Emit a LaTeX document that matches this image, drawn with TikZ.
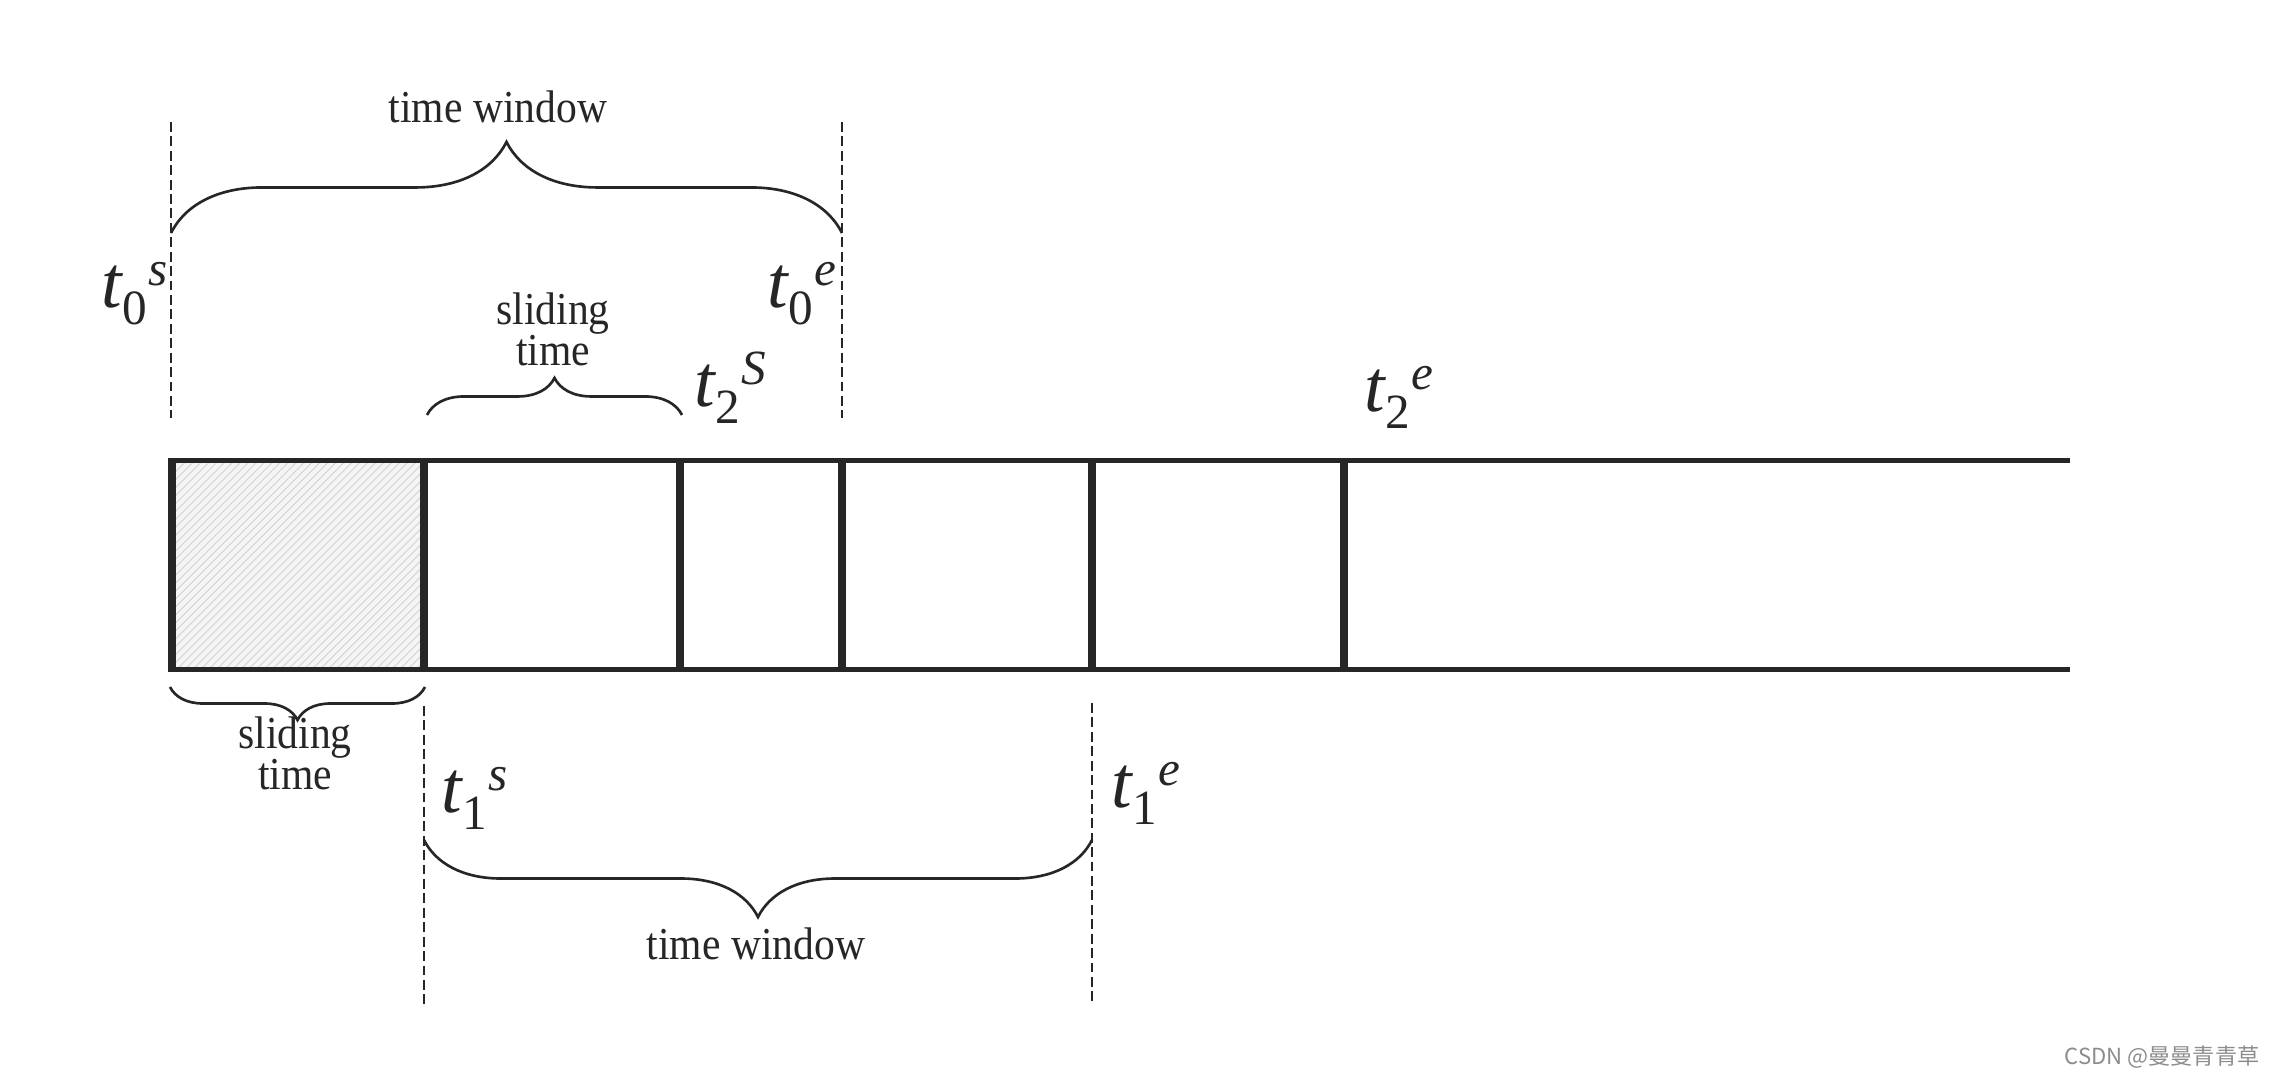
\documentclass[tikz,border=0pt]{standalone}
\usepackage{fontspec}
\setmainfont{Liberation Serif}
\newfontfamily\narrowserif{Liberation Serif}[FakeStretch=0.91]
\newfontfamily\cjkfont{Noto Sans CJK SC}
\usetikzlibrary{decorations.pathreplacing,patterns.meta}

\newcommand{\tmark}[2]{{\fontsize{21}{21}\selectfont\itshape t}\raisebox{-4.8pt}{\fontsize{14}{14}\selectfont #1}\kern0.6pt\raisebox{6.5pt}{\fontsize{14}{14}\selectfont\itshape #2}}

\begin{document}
\begin{tikzpicture}[x=0.01cm,y=-0.01cm,
  ink/.style={draw=black!85},
  rim/.style={ink,line width=1.2pt},
  wall/.style={ink,line width=2.5pt},
  guide/.style={ink,line width=0.75pt,dash pattern=on 2.8pt off 1.3pt},
  curly/.style={ink,line width=0.75pt,decorate,decoration={brace,amplitude=#1}},
  lbl/.style={inner sep=0pt,font=\narrowserif\fontsize{13}{11.7}\selectfont,align=center,text=black!85},
  stamp/.style={inner sep=0pt,anchor=base west,text=black!85}]
\useasboundingbox (0,0) rectangle (2276,1077);
% first (shaded) slot
\fill[gray!8] (171,460) rectangle (424,669);
\fill[pattern={Lines[angle=45,distance=1.6pt,line width=0.35pt]},pattern color=gray!30] (171,460) rectangle (424,669);
\draw[rim] (171,460.5) coordinate (top a) -- (2070,460.5) coordinate (top z);
\draw[rim] (171,669.5) coordinate (bot a) -- (2070,669.5) coordinate (bot z);
\foreach \x/\n in {172/a,424/b,680/c,842/d,1092/e,1344/f} {
   \draw[wall] (\x,458) coordinate (\n up) -- (\x,672) coordinate (\n dn);
}
% window guides
\coordinate (g0s) at (171,122); \coordinate (g0s end) at (171,418);
\coordinate (g0e) at (842,122); \coordinate (g0e end) at (842,418);
\coordinate (g1s) at (424,706); \coordinate (g1s end) at (424,1008);
\coordinate (g1e) at (1092,703); \coordinate (g1e end) at (1092,1002);
\draw[guide] (g0s) -- (g0s end);
\draw[guide] (g0e) -- (g0e end);
\draw[guide] (g1s) -- (g1s end);
\draw[guide] (g1e) -- (g1e end);
% braces
\coordinate (w0 l) at (171,233); \coordinate (w0 r) at (842,233);
\coordinate (s0 l) at (427,415); \coordinate (s0 r) at (682,415);
\coordinate (s1 l) at (170,687); \coordinate (s1 r) at (425,687);
\coordinate (w1 l) at (424,840); \coordinate (w1 r) at (1092,840);
\draw[curly=0.91cm] (w0 l) -- (w0 r);
\draw[curly=0.37cm] (s0 l) -- (s0 r);
\draw[curly=0.33cm] (s1 r) -- (s1 l);
\draw[curly=0.77cm] (w1 r) -- (w1 l);
\node[lbl,anchor=base] (win top) at (498,123) {time window};
\node[lbl,anchor=base] (slide top) at (553,366) {sliding\\time};
\node[lbl,anchor=base] (slide bot) at (295,790) {sliding\\time};
\node[lbl,anchor=base] (win bot) at (756,960) {time window};
% time stamps
\node[stamp] (t0s) at (101,308) {\tmark{0}{s}};
\node[stamp] (t0e) at (767,308) {\tmark{0}{e}};
\node[stamp] (t2s) at (694,407) {\tmark{2}{S}};
\node[stamp] (t2e) at (1364,412) {\tmark{2}{e}};
\node[stamp] (t1s) at (441,813) {\tmark{1}{s}};
\node[stamp] (t1e) at (1111,808) {\tmark{1}{e}};
\node[anchor=base east,inner sep=0pt,text=black!45,font=\cjkfont\fontsize{6.3}{7}\selectfont] (mark) at (2260,1064) {CSDN @曼曼青青草};
\end{tikzpicture}
\end{document}
